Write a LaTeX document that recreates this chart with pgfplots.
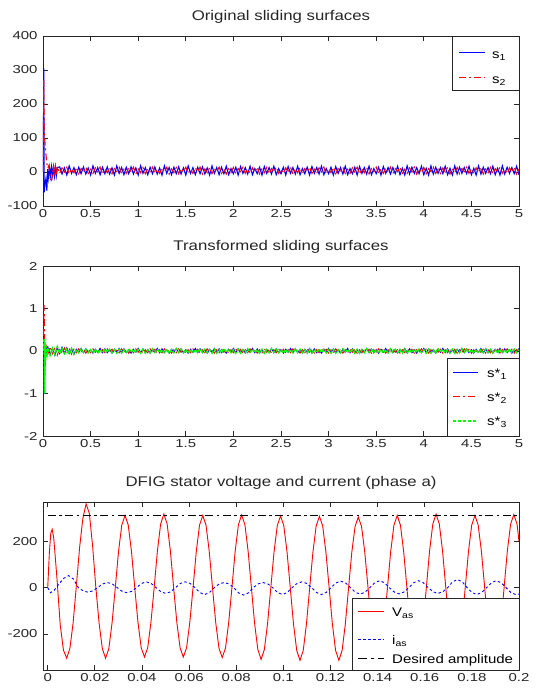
\documentclass[border=0pt]{standalone}
\usepackage{fontspec}
\setmainfont{Liberation Sans}[FakeStretch=1.2]
\newfontfamily\tickfont{Liberation Sans}[FakeStretch=1.3]
\usepackage{pgfplots}
\usepackage{pgfplotstable}
\pgfplotsset{compat=1.18}

\pgfplotsset{mat/.style={
  scale only axis, width=476pt, enlargelimits=false,
  axis line style={black!85, line width=0.7pt},
  tick align=inside, tick pos=both, major tick length=5pt,
  every tick/.style={black!85, line width=0.7pt},
  tick label style={font=\tickfont\fontsize{11.5}{12}\selectfont, text=black!85},
  yticklabel style={xshift=-2pt},
  title style={font=\fontsize{14}{16}\selectfont, at={(0.5,1)}, anchor=base, yshift=9.5pt, text=black!85},
}}
\tikzset{
  legbox/.style={draw=black!85, line width=0.7pt, fill=white},
  legtxt/.style={anchor=base west, inner sep=0pt, font=\fontsize{12.5}{13}\selectfont},
  dashdot/.style={dash pattern=on 7pt off 3pt on 2pt off 3pt},
}

% original sliding surfaces
\pgfplotstableread{
t s1 s2
0.003 0 0
0.008 305 270
0.013 -60 110
0.02 -35 90
0.03 -20 55
0.04 -55 25
0.05 8 12
0.06 -18 18
0.07 12 -6
0.08 -12 -20
0.09 15 -24
0.1 -9 -6
0.11 13 15
0.12 -12 -12
0.13 15 18
0.14 -10 -9
0.15 13 16
0.175 15 -4
0.2 -6 12
0.225 12 0
0.25 -9 14
0.275 18 -6
0.3 -4 9
0.325 13 -2
0.35 -8 13
0.375 14 -5
0.4 -5 10
0.425 15 1
0.45 -6 14
0.475 12 -4
0.5 -9 8
0.525 18 -4
0.55 -4 12
0.575 13 0
0.6 -8 14
0.625 14 -6
0.65 -5 9
0.675 15 -2
0.7 -6 13
0.725 12 -5
0.75 -9 10
0.775 18 1
0.8 -4 14
0.825 13 -4
0.85 -8 8
0.875 14 -4
0.9 -5 12
0.925 15 0
0.95 -6 14
0.975 12 -6
1.0 -9 9
1.025 18 -2
1.05 -4 13
1.075 13 -5
1.1 -8 10
1.125 14 1
1.15 -5 14
1.175 15 -4
1.2 -6 8
1.225 12 -4
1.25 -9 12
1.275 18 0
1.3 -4 14
1.325 13 -6
1.35 -8 9
1.375 14 -2
1.4 -5 13
1.425 15 -5
1.45 -6 10
1.475 12 1
1.5 -9 14
1.525 18 -4
1.55 -4 8
1.575 13 -4
1.6 -8 12
1.625 14 0
1.65 -5 14
1.675 15 -6
1.7 -6 9
1.725 12 -2
1.75 -9 13
1.775 18 -5
1.8 -4 10
1.825 13 1
1.85 -8 14
1.875 14 -4
1.9 -5 8
1.925 17 -6
1.95 -8 9
1.975 10 -2
2.0 -5 13
2.025 14 -5
2.05 -9 10
2.075 16 1
2.1 -4 14
2.125 13 -4
2.15 -6 8
2.175 17 -4
2.2 -8 12
2.225 10 0
2.25 -5 14
2.275 14 -6
2.3 -9 9
2.325 16 -2
2.35 -4 13
2.375 13 -5
2.4 -6 10
2.425 17 1
2.45 -8 14
2.475 10 -4
2.5 -5 8
2.525 14 -4
2.55 -9 12
2.575 16 0
2.6 -4 14
2.625 13 -6
2.65 -6 9
2.675 17 -2
2.7 -8 13
2.725 10 -5
2.75 -5 10
2.775 14 1
2.8 -9 14
2.825 16 -4
2.85 -4 8
2.875 13 -4
2.9 -6 12
2.925 17 0
2.95 -8 14
2.975 10 -6
3.0 -5 9
3.025 14 -2
3.05 -9 13
3.075 16 -5
3.1 -4 10
3.125 13 1
3.15 -6 14
3.175 17 -4
3.2 -8 8
3.225 10 -4
3.25 -5 12
3.275 14 0
3.3 -9 14
3.325 16 -6
3.35 -4 9
3.375 13 -2
3.4 -6 13
3.425 17 -5
3.45 -8 10
3.475 10 1
3.5 -5 14
3.525 14 -4
3.55 -9 8
3.575 16 -4
3.6 -4 12
3.625 13 0
3.65 -6 14
3.675 13 -5
3.7 -5 10
3.725 17 1
3.75 -8 14
3.775 11 -4
3.8 -9 8
3.825 18 -4
3.85 -6 12
3.875 14 0
3.9 -4 14
3.925 13 -6
3.95 -5 9
3.975 17 -2
4.0 -8 13
4.025 11 -5
4.05 -9 10
4.075 18 1
4.1 -6 14
4.125 14 -4
4.15 -4 8
4.175 13 -4
4.2 -5 12
4.225 17 0
4.25 -8 14
4.275 11 -6
4.3 -9 9
4.325 18 -2
4.35 -6 13
4.375 14 -5
4.4 -4 10
4.425 13 1
4.45 -5 14
4.475 17 -4
4.5 -8 8
4.525 11 -4
4.55 -9 12
4.575 18 0
4.6 -6 14
4.625 14 -6
4.65 -4 9
4.675 13 -2
4.7 -5 13
4.725 17 -5
4.75 -8 10
4.775 11 1
4.8 -9 14
4.825 18 -4
4.85 -6 8
4.875 14 -4
4.9 -4 12
4.925 13 0
4.95 -5 14
4.975 17 -6
5.0 -8 9
}\surfA

% transformed sliding surfaces
\pgfplotstableread{
t a b c
0.003 0 0 0
0.012 -0.4 1.08 0.3
0.016 -1.0 0.45 -1.0
0.021 -0.15 -0.35 0.2
0.027 0.12 0.05 -0.15
0.034 -0.1 0.1 0.12
0.042 0.1 -0.1 -0.08
0.05 0.1 -0.08 0.08
0.075 -0.08 0.1 -0.1
0.1 0.06 -0.06 0.06
0.125 -0.1 0.08 -0.08
0.15 0.08 -0.1 0.1
0.175 -0.06 0.06 -0.06
0.2 0.09 -0.06 0.06
0.225 -0.06 0.075 -0.06
0.25 0.075 -0.045 0.045
0.275 -0.06 0.06 -0.075
0.3 0.045 -0.075 0.06
0.325 -0.075 0.045 -0.075
0.35 0.04 -0.04 0.03
0.375 -0.03 0.05 -0.04
0.4 0.06 -0.03 0.05
0.425 -0.04 0.04 -0.03
0.45 0.05 -0.05 0.04
0.475 -0.04 0.03 -0.04
0.5 0.03 -0.04 0.03
0.525 -0.05 0.05 -0.05
0.55 0.04 -0.03 0.04
0.575 -0.03 0.04 -0.05
0.6 0.06 -0.05 0.03
0.625 -0.04 0.03 -0.04
0.65 0.05 -0.04 0.05
0.675 -0.04 0.05 -0.03
0.7 0.03 -0.03 0.04
0.725 -0.05 0.04 -0.04
0.75 0.04 -0.05 0.03
0.775 -0.03 0.03 -0.05
0.8 0.06 -0.04 0.04
0.825 -0.04 0.05 -0.05
0.85 0.05 -0.03 0.03
0.875 -0.04 0.04 -0.04
0.9 0.03 -0.05 0.05
0.925 -0.05 0.03 -0.03
0.95 0.04 -0.04 0.04
0.975 -0.03 0.05 -0.04
1.0 0.06 -0.03 0.03
1.025 -0.04 0.04 -0.05
1.05 0.05 -0.05 0.04
1.075 -0.04 0.03 -0.05
1.1 0.03 -0.04 0.03
1.125 -0.05 0.05 -0.04
1.15 0.04 -0.03 0.05
1.175 -0.03 0.04 -0.03
1.2 0.06 -0.05 0.04
1.225 -0.04 0.03 -0.04
1.25 0.05 -0.04 0.03
1.275 -0.04 0.05 -0.05
1.3 0.03 -0.03 0.04
1.325 -0.05 0.04 -0.05
1.35 0.04 -0.05 0.03
1.375 -0.03 0.03 -0.04
1.4 0.06 -0.04 0.05
1.425 -0.04 0.05 -0.03
1.45 0.05 -0.03 0.04
1.475 -0.04 0.04 -0.04
1.5 0.03 -0.05 0.03
1.525 -0.05 0.03 -0.05
1.55 0.04 -0.04 0.04
1.575 -0.03 0.05 -0.05
1.6 0.06 -0.03 0.03
1.625 -0.04 0.04 -0.04
1.65 0.05 -0.05 0.05
1.675 -0.04 0.03 -0.03
1.7 0.03 -0.04 0.04
1.725 -0.05 0.05 -0.04
1.75 0.04 -0.03 0.03
1.775 -0.03 0.04 -0.05
1.8 0.06 -0.05 0.04
1.825 -0.04 0.03 -0.05
1.85 0.05 -0.04 0.03
1.875 -0.04 0.05 -0.04
1.9 0.03 -0.03 0.05
1.925 -0.05 0.04 -0.03
1.95 0.04 -0.05 0.04
1.975 -0.03 0.03 -0.04
2.0 0.06 -0.04 0.03
2.025 -0.04 0.05 -0.05
2.05 0.05 -0.03 0.04
2.075 -0.04 0.04 -0.05
2.1 0.03 -0.05 0.03
2.125 -0.05 0.03 -0.04
2.15 0.04 -0.04 0.05
2.175 -0.03 0.05 -0.03
2.2 0.06 -0.03 0.04
2.225 -0.04 0.04 -0.04
2.25 0.05 -0.05 0.03
2.275 -0.04 0.03 -0.05
2.3 0.03 -0.04 0.04
2.325 -0.05 0.05 -0.05
2.35 0.04 -0.03 0.03
2.375 -0.03 0.04 -0.04
2.4 0.06 -0.05 0.05
2.425 -0.04 0.03 -0.03
2.45 0.05 -0.04 0.04
2.475 -0.04 0.05 -0.04
2.5 0.03 -0.03 0.03
2.525 -0.05 0.04 -0.05
2.55 0.04 -0.05 0.04
2.575 -0.03 0.03 -0.05
2.6 0.06 -0.04 0.03
2.625 -0.04 0.05 -0.04
2.65 0.05 -0.03 0.05
2.675 -0.04 0.04 -0.03
2.7 0.03 -0.05 0.04
2.725 -0.05 0.03 -0.04
2.75 0.04 -0.04 0.03
2.775 -0.03 0.05 -0.05
2.8 0.06 -0.03 0.04
2.825 -0.04 0.04 -0.05
2.85 0.05 -0.05 0.03
2.875 -0.04 0.03 -0.04
2.9 0.03 -0.04 0.05
2.925 -0.05 0.05 -0.03
2.95 0.04 -0.03 0.04
2.975 -0.03 0.04 -0.04
3.0 0.06 -0.05 0.03
3.025 -0.04 0.03 -0.05
3.05 0.05 -0.04 0.04
3.075 -0.04 0.05 -0.05
3.1 0.03 -0.03 0.03
3.125 -0.05 0.04 -0.04
3.15 0.04 -0.05 0.05
3.175 -0.03 0.03 -0.03
3.2 0.06 -0.04 0.04
3.225 -0.04 0.05 -0.04
3.25 0.05 -0.03 0.03
3.275 -0.04 0.04 -0.05
3.3 0.03 -0.05 0.04
3.325 -0.05 0.03 -0.05
3.35 0.04 -0.04 0.03
3.375 -0.03 0.05 -0.04
3.4 0.06 -0.03 0.05
3.425 -0.04 0.04 -0.03
3.45 0.05 -0.05 0.04
3.475 -0.04 0.03 -0.04
3.5 0.03 -0.04 0.03
3.525 -0.05 0.05 -0.05
3.55 0.04 -0.03 0.04
3.575 -0.03 0.04 -0.05
3.6 0.06 -0.05 0.03
3.625 -0.04 0.03 -0.04
3.65 0.05 -0.04 0.05
3.675 -0.04 0.05 -0.03
3.7 0.03 -0.03 0.04
3.725 -0.05 0.04 -0.04
3.75 0.04 -0.05 0.03
3.775 -0.03 0.03 -0.05
3.8 0.06 -0.04 0.04
3.825 -0.04 0.05 -0.05
3.85 0.05 -0.03 0.03
3.875 -0.04 0.04 -0.04
3.9 0.03 -0.05 0.05
3.925 -0.05 0.03 -0.03
3.95 0.04 -0.04 0.04
3.975 -0.03 0.05 -0.04
4.0 0.06 -0.03 0.03
4.025 -0.04 0.04 -0.05
4.05 0.05 -0.05 0.04
4.075 -0.04 0.03 -0.05
4.1 0.03 -0.04 0.03
4.125 -0.05 0.05 -0.04
4.15 0.04 -0.03 0.05
4.175 -0.03 0.04 -0.03
4.2 0.06 -0.05 0.04
4.225 -0.04 0.03 -0.04
4.25 0.05 -0.04 0.03
4.275 -0.04 0.05 -0.05
4.3 0.03 -0.03 0.04
4.325 -0.05 0.04 -0.05
4.35 0.04 -0.05 0.03
4.375 -0.03 0.03 -0.04
4.4 0.06 -0.04 0.05
4.425 -0.04 0.05 -0.03
4.45 0.05 -0.03 0.04
4.475 -0.04 0.04 -0.04
4.5 0.03 -0.05 0.03
4.525 -0.05 0.03 -0.05
4.55 0.04 -0.04 0.04
4.575 -0.03 0.05 -0.05
4.6 0.06 -0.03 0.03
4.625 -0.04 0.04 -0.04
4.65 0.05 -0.05 0.05
4.675 -0.04 0.03 -0.03
4.7 0.03 -0.04 0.04
4.725 -0.05 0.05 -0.04
4.75 0.04 -0.03 0.03
4.775 -0.03 0.04 -0.05
4.8 0.06 -0.05 0.04
4.825 -0.04 0.03 -0.05
4.85 0.05 -0.04 0.03
4.875 -0.04 0.05 -0.04
4.9 0.03 -0.03 0.05
4.925 -0.05 0.04 -0.03
4.95 0.04 -0.05 0.04
4.975 -0.03 0.03 -0.04
5.0 0.06 -0.04 0.03
}\surfB

% stator voltage, phase a
\pgfplotstableread{
t v
0 0
0.0007 150
0.0013 235
0.0019 252
0.00255 215
0.003925 40
0.0053 -160
0.006675 -270
0.00805 -305
0.009425 -262
0.0108 -150
0.012175 10
0.01355 175
0.014925 300
0.0163 362
0.01768 320
0.01905 180
0.02043 0
0.0218 -153
0.02318 -264
0.02455 -305
0.02593 -264
0.0273 -153
0.02868 0
0.03005 156
0.03143 270
0.0328 312
0.03418 270
0.03555 156
0.03693 0
0.0383 -150
0.03968 -260
0.04105 -300
0.04243 -260
0.0438 -150
0.04518 0
0.04655 159
0.04793 275
0.0493 318
0.05068 275
0.05205 159
0.05343 0
0.0548 -150
0.05618 -260
0.05755 -300
0.05893 -260
0.0603 -150
0.06168 0
0.06305 156
0.06443 270
0.0658 312
0.06718 270
0.06855 156
0.06993 0
0.0713 -151
0.07268 -262
0.07405 -302
0.07543 -262
0.0768 -151
0.07818 0
0.07955 157
0.08093 272
0.0823 314
0.08368 272
0.08505 157
0.08643 0
0.0878 -155
0.08918 -268
0.09055 -310
0.09193 -268
0.0933 -155
0.09468 0
0.09605 155
0.09743 268
0.0988 310
0.10018 268
0.10155 155
0.10293 0
0.1043 -157
0.10568 -272
0.10705 -314
0.10843 -272
0.1098 -157
0.11118 0
0.11255 154
0.11393 267
0.1153 308
0.11668 267
0.11805 154
0.11943 0
0.1208 -157
0.12218 -272
0.12355 -314
0.12493 -272
0.1263 -157
0.12768 0
0.12905 153
0.13043 264
0.1318 305
0.13318 264
0.13455 153
0.13593 0
0.1373 -159
0.13868 -275
0.14005 -318
0.14143 -275
0.1428 -159
0.14418 0
0.14555 156
0.14693 270
0.1483 312
0.14968 270
0.15105 156
0.15243 0
0.1538 -158
0.15518 -274
0.15655 -316
0.15793 -274
0.1593 -158
0.16068 0
0.16205 159
0.16343 275
0.1648 318
0.16618 275
0.16755 159
0.16893 0
0.1703 -158
0.17168 -273
0.17305 -315
0.17443 -273
0.1758 -158
0.17718 0
0.17855 156
0.17993 270
0.1813 312
0.18268 270
0.18405 156
0.18543 0
0.1868 -157
0.18818 -272
0.18955 -314
0.19093 -272
0.1923 -157
0.19368 0
0.19505 158
0.19643 274
0.1978 316
0.19918 274
0.2 200
}\volt

% stator current, phase a
\pgfplotstableread{
t i
0 0
0.0012 -22
0.0027 -12
0.0047 15
0.0068 40
0.00885 52
0.01091 37
0.01298 0
0.01504 -14
0.0171 -20
0.01916 -14
0.02123 0
0.02329 16
0.02535 22
0.02741 16
0.02948 0
0.03154 -16
0.0336 -22
0.03566 -16
0.03773 0
0.03979 18
0.04185 25
0.04391 18
0.04598 0
0.04804 -18
0.0501 -25
0.05216 -18
0.05423 0
0.05629 18
0.05835 25
0.06041 18
0.06248 0
0.06454 -21
0.0666 -30
0.06866 -21
0.07073 0
0.07279 16
0.07485 22
0.07691 16
0.07898 0
0.08104 -23
0.0831 -32
0.08516 -23
0.08723 0
0.08929 16
0.09135 22
0.09341 16
0.09548 0
0.09754 -21
0.0996 -30
0.10166 -21
0.10373 0
0.10579 18
0.10785 25
0.10991 18
0.11198 0
0.11404 -21
0.1161 -30
0.11816 -21
0.12023 0
0.12229 20
0.12435 28
0.12641 20
0.12848 0
0.13054 -20
0.1326 -28
0.13466 -20
0.13673 0
0.13879 21
0.14085 30
0.14291 21
0.14498 0
0.14704 -19
0.1491 -27
0.15116 -19
0.15323 0
0.15529 21
0.15735 30
0.15941 21
0.16148 0
0.16354 -18
0.1656 -25
0.16766 -18
0.16973 0
0.17179 25
0.17385 35
0.17591 25
0.17798 0
0.18004 -21
0.1821 -30
0.18416 -21
0.18623 0
0.18829 21
0.19035 30
0.19241 21
0.19448 0
0.19654 -21
0.1986 -30
0.2 -28
}\curr

\begin{document}
\begin{tikzpicture}
\path[use as bounding box] (0pt,0pt) rectangle (558pt,690pt);

\begin{axis}[mat, at={(43pt,484pt)}, anchor=south west, height=170pt,
  title={Original sliding surfaces},
  xmin=0, xmax=5, ymin=-100, ymax=400,
  xtick={0,0.5,1,1.5,2,2.5,3,3.5,4,4.5,5},
  xticklabels={0,0.5,1,1.5,2,2.5,3,3.5,4,4.5,5},
  ytick={-100,0,100,200,300,400},
  yticklabels={-100,0,100,200,300,400}]
\addplot[blue, line width=1.1pt] table[x=t, y=s1] {\surfA};
\addplot[red, line width=1.1pt, dashdot] table[x=t, y=s2] {\surfA};
\end{axis}

\begin{axis}[mat, at={(43pt,254pt)}, anchor=south west, height=170pt,
  title={Transformed sliding surfaces},
  xmin=0, xmax=5, ymin=-2, ymax=2,
  xtick={0,0.5,1,1.5,2,2.5,3,3.5,4,4.5,5},
  xticklabels={0,0.5,1,1.5,2,2.5,3,3.5,4,4.5,5},
  ytick={-2,-1,0,1,2},
  yticklabels={-2,-1,0,1,2}]
\addplot[blue, line width=1pt] table[x=t, y=a] {\surfB};
\addplot[red, line width=1pt, dashdot] table[x=t, y=b] {\surfB};
\addplot[green, line width=1.5pt, dash pattern=on 3pt off 1.5pt] table[x=t, y=c] {\surfB};
\end{axis}

\begin{axis}[mat, at={(43pt,20pt)}, anchor=south west, height=168pt,
  title={DFIG stator voltage and current (phase a)},
  xmin=-0.002, xmax=0.2, ymin=-356, ymax=370,
  xtick={0,0.02,0.04,0.06,0.08,0.1,0.12,0.14,0.16,0.18,0.2},
  xticklabels={0,0.02,0.04,0.06,0.08,0.1,0.12,0.14,0.16,0.18,0.2},
  ytick={-200,0,200},
  yticklabels={-200,0,200}]
\addplot[red, line width=0.9pt] table[x=t, y=v] {\volt};
\addplot[blue, line width=0.9pt, dash pattern=on 2.5pt off 2.5pt] table[x=t, y=i] {\curr};
\addplot[black, line width=0.8pt, dash pattern=on 8pt off 3.5pt on 2.5pt off 3.5pt] coordinates {(0,311) (0.2,311)};
\end{axis}

% legends: boxes first, then all samples, then all labels
\begin{scope}[x=1pt, y=1pt]
\draw[legbox] (452,600) rectangle (519,654);
\draw[legbox] (447,254) rectangle (519,332);
\draw[legbox] (352,20) rectangle (519,92);

\draw[blue, line width=1pt] (459,637) -- (485,637);
\draw[red, line width=1pt, dashdot] (459,612) -- (485,612);
\draw[blue, line width=1pt] (453,317) -- (478,317);
\draw[red, line width=1pt, dashdot] (453,293) -- (478,293);
\draw[green, line width=1.3pt, dash pattern=on 3pt off 2pt] (453,269) -- (478,269);
\draw[red, line width=1pt] (358,78) -- (384,78);
\draw[blue, line width=1pt, dash pattern=on 2.5pt off 2.5pt] (358,50) -- (384,50);
\draw[black, line width=0.9pt, dash pattern=on 9pt off 4pt on 3pt off 4pt] (358,32) -- (384,32);

\node[legtxt] at (492,631) {s\textsubscript{1}};
\node[legtxt] at (492,606) {s\textsubscript{2}};
\node[legtxt] at (487,312) {s*\textsubscript{1}};
\node[legtxt] at (487,288) {s*\textsubscript{2}};
\node[legtxt] at (487,264) {s*\textsubscript{3}};
\node[legtxt] at (392,73) {V\textsubscript{as}};
\node[legtxt] at (392,45) {i\textsubscript{as}};
\node[legtxt] at (392,27) {Desired amplitude};
\end{scope}
\end{tikzpicture}
\end{document}
